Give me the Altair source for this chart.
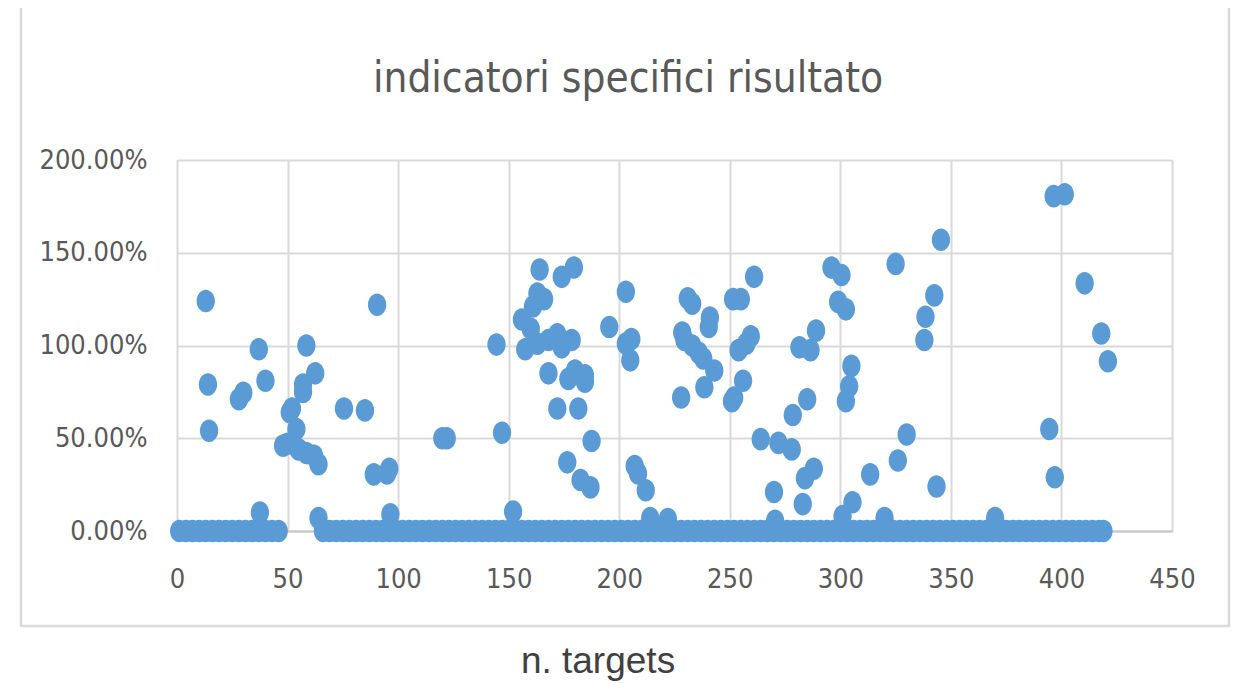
import altair as alt
import pandas as pd

# --- data -----------------------------------------------------------------
# targets whose indicator is above zero (x = target number, y = percent)
nz_x = [13, 14, 14.5, 28, 30, 37, 37.5, 40,
        48, 50, 51, 52, 54, 55, 57, 57, 58.5, 58.5, 62, 62.5, 64, 64,
        75.5, 85, 89, 90.5, 95, 96, 96.5,
        120, 122, 144.5, 147, 152, 156, 157.5, 160, 161, 163, 163, 164, 166,
        168, 168, 172, 172, 174, 174, 176.5, 177, 178.5, 179.5, 180, 181.5,
        182.5, 184.5, 184.5, 187, 187.5, 195.5, 203, 203, 205.5, 205, 207,
        208.5, 212, 214, 222,
        228, 228.5, 229.5, 231, 233, 233, 236, 238, 238.5, 241, 240.5, 243,
        251, 252, 251.5, 255, 254, 256, 257.5, 259.5, 261, 264, 270, 270.5,
        272, 278, 278.5, 281.5, 283, 284, 285, 286.5, 288, 289, 296, 300.5,
        299, 302.5, 301, 302.5, 304, 305, 305.5,
        313.5, 320, 325, 326, 330, 338, 338.5, 342.5, 343.5, 345.5, 370,
        394.5, 397, 396.5, 401.5, 410.5, 418, 421]
nz_y = [124, 79, 54, 71, 74.5, 98, 10, 81,
        46, 47, 64, 66, 55, 44, 79, 75, 100, 42, 40.5, 85, 36, 7,
        66, 65, 30.5, 122, 31, 33.5, 9,
        50, 50, 100.5, 53, 10.5, 114, 98, 109, 121, 128, 101, 141, 125,
        103, 85, 106, 66, 99, 137, 37, 82, 103, 142, 86.5, 66,
        27.5, 84, 80.5, 23.5, 48.5, 110, 129, 101, 103.5, 92, 35,
        31, 22, 7, 6.5,
        72, 107, 103, 125.5, 122.5, 100, 96, 93, 77.5, 115, 110, 86.5,
        70, 72, 125, 125, 97.5, 81, 101, 105, 137, 49.5, 21, 5.5,
        47.5, 44, 62.5, 99, 14.5, 28.5, 71, 97.5, 33.5, 108, 142, 138,
        123.5, 119.5, 8, 70, 78, 89, 15.5,
        30.5, 7, 144, 38, 52, 103, 115.5, 127, 24, 157, 7,
        55, 29, 180.5, 181.5, 133.5, 106.5, 91.5]

# targets sitting at 0.00 %
zero_x = [1, 4, 7, 10, 13, 16, 19, 22, 25, 28, 31, 34, 37, 40, 43, 46,
          66, 69, 72, 75, 78, 81, 84, 87, 90, 93, 96, 99, 102, 105, 108, 111,
          114, 117, 120, 123, 126, 129, 132, 135, 138, 141, 144, 147, 150, 153,
          156, 159, 162, 165, 168, 171, 174, 177, 180, 183, 186, 189, 192, 195,
          198, 201, 204, 207, 210, 213, 216, 219, 222, 225, 228, 231, 234, 237,
          240, 243, 246, 249, 252, 255, 258, 261, 264, 267, 270, 273, 276, 279,
          282, 285, 288, 291, 294, 297, 300, 303, 306, 309, 312, 315, 318, 321,
          324, 327, 330, 333, 336, 339, 342, 345, 348, 351, 354, 357, 360, 363,
          366, 369, 372, 375, 378, 381, 384, 387, 390, 393, 396, 399, 402, 405,
          408, 411, 414, 417, 419]

x_ticks = [0, 50, 100, 150, 200, 250, 300, 350, 400, 450]
y_ticks = [0, 0.5, 1.0, 1.5, 2.0]

title_text = ["indicatori specifici risultato"]
xlabel_text = ["n. targets"]

# ---------------------------------------------------------------------------
df = pd.DataFrame({
    "target": zero_x + nz_x,
    "value": [0.0] * len(zero_x) + [v / 100 for v in nz_y],
})

LABEL_FONT = "DejaVu Sans Condensed, DejaVu Sans, sans-serif"
GREY = "#595959"
ELLIPSE = "M-0.81,0A0.81,1,0,1,0,0.81,0A0.81,1,0,1,0,-0.81,0Z"

points = alt.Chart(df).mark_point(
    shape=ELLIPSE, filled=True, size=511, color="#5b9bd5", opacity=1,
    strokeWidth=0,
).encode(
    x=alt.X("target:Q",
            scale=alt.Scale(domain=[0, 450], nice=False, zero=False),
            axis=alt.Axis(values=x_ticks, title=None, grid=True,
                          gridColor="#d9d9d9", gridWidth=2,
                          domain=True, domainColor="#c6c6c6", domainWidth=2,
                          ticks=False, labelFont=LABEL_FONT, labelFontSize=27,
                          labelColor=GREY, labelPadding=35,
                          labelBaseline="top", labelFlush=False,
                          labelOverlap=False, labelBound=False)),
    y=alt.Y("value:Q",
            scale=alt.Scale(domain=[0, 2], nice=False, zero=False),
            axis=alt.Axis(values=y_ticks, format=".2%", title=None, grid=True,
                          gridColor="#d9d9d9", gridWidth=2, domain=False,
                          ticks=False, labelFont=LABEL_FONT, labelFontSize=27,
                          labelColor=GREY, labelPadding=30, labelFlush=False,
                          labelOverlap=False, labelBound=False)),
)

frame = alt.Chart(pd.DataFrame({"k": [0]})).mark_rect(
    fill=None, fillOpacity=0, stroke="#d9d9d9", strokeWidth=2.5,
).encode(
    x=alt.value(-156), x2=alt.value(1052),
    y=alt.value(-155), y2=alt.value(466),
)

title = alt.Chart(pd.DataFrame({"t": title_text})).mark_text(
    font=LABEL_FONT, fontSize=42, color=GREY, align="center",
    baseline="alphabetic",
).encode(text="t:N", x=alt.value(451), y=alt.value(-68))

xlabel = alt.Chart(pd.DataFrame({"t": xlabel_text})).mark_text(
    font="Liberation Sans, Arial, sans-serif", fontSize=37, color="#404040",
    align="center", baseline="alphabetic",
).encode(text="t:N", x=alt.value(421), y=alt.value(513))

chart = alt.layer(frame, points, title, xlabel).properties(
    width=995, height=371,
    autosize=alt.AutoSizeParams(type="none"),
    padding={"left": 169, "top": 152, "right": 60, "bottom": 160},
).configure_view(stroke=None).configure(background="white")

chart.save("out.html", embed_options={"renderer": "svg", "actions": False})
